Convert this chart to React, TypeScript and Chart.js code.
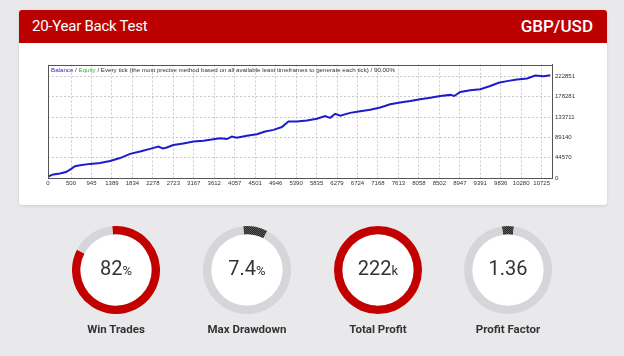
import React, { useEffect, useRef } from "react";
import { Chart, registerables } from "chart.js";

Chart.register(...registerables);

// ---- line chart data (trade number vs balance) ----
const tradeNumbers = [
  0, 115, 261, 391, 478, 587, 696, 913, 1130, 1348, 1565, 1783, 2000, 2217, 2398, 2494, 2580, 2724,
  2941, 3159, 3376, 3594, 3739, 3885, 3994, 4102, 4320, 4537, 4718, 4898, 5081, 5224, 5407, 5624,
  5842, 6022, 6131, 6239, 6348, 6565, 6783, 7000, 7218, 7435, 7652, 7870, 8087, 8305, 8522, 8739,
  8826, 8957, 9174, 9392, 9609, 9790, 9972, 10190, 10407, 10587, 10768, 10913,
];
const balanceValues = [
  3000, 7800, 10000, 13000, 18500, 26000, 28000, 31000, 33000, 37300, 43800, 53000, 58000, 64000,
  69000, 65000, 67000, 72500, 76000, 80000, 82000, 85000, 87000, 85500, 91000, 88500, 92800, 96000,
  102000, 105700, 112000, 124000, 124000, 126500, 130000, 136000, 132000, 141000, 137000, 143000,
  146700, 150000, 155000, 162000, 166000, 169000, 173000, 176000, 180000, 182500, 180000, 189000,
  192600, 194800, 202000, 209000, 212700, 216400, 218500, 225000, 223500, 225600,
];
const xTickLabels = [
  "0", "500", "945", "1389", "1834", "2278", "2723", "3167", "3612", "4057", "4501", "4946", "5390",
  "5835", "6279", "6724", "7168", "7613", "8058", "8502", "8947", "9391", "9836", "10280", "10725",
];
const yTickLabels = ["0", "44570", "89140", "133711", "178281", "222851"];
const xMax = 10950;
const yMax = 249000;

const headerTitle = "20-Year Back Test";
const headerPair = "GBP/USD";
const plotCaptionParts = [
  { text: "Balance", color: "#2b2bc4" },
  { text: " / ", color: "#333" },
  { text: "Equity", color: "#2fbf2f" },
  {
    text: " / Every tick (the most precise method based on all available least timeframes to generate each tick) / 90.00%",
    color: "#333",
  },
];

// ---- gauges ----
const gaugeNames = ["Win Trades", "Max Drawdown", "Total Profit", "Profit Factor"];
const gaugeValues = ["82", "7.4", "222", "1.36"];
const gaugeUnits = ["%", "%", "k", ""];
const gaugeFill = [84, 9, 100, 4.4];
const gaugeStart = [-5, -5, 0, -8];
const gaugeKinds = ["red", "dark", "red", "dark"];

const RED = "#c30000";
const RING_GRAY = "#d5d6da";

function darkPattern(): CanvasPattern | string {
  const c = document.createElement("canvas");
  c.width = 2;
  c.height = 2;
  const g = c.getContext("2d");
  if (!g) return "#444";
  g.fillStyle = "#5c5c5c";
  g.fillRect(0, 0, 2, 2);
  g.fillStyle = "#262626";
  g.fillRect(0, 0, 1, 1);
  g.fillRect(1, 1, 1, 1);
  return g.createPattern(c, "repeat") || "#444";
}

function LineChart() {
  const ref = useRef<HTMLCanvasElement>(null);
  useEffect(() => {
    if (!ref.current) return;
    const framePlugin = {
      id: "frame",
      afterDraw(chart: any) {
        const { ctx, chartArea: a } = chart;
        ctx.save();
        ctx.strokeStyle = "#555";
        ctx.lineWidth = 1;
        ctx.strokeRect(Math.round(a.left) + 0.5, Math.round(a.top) + 0.5, Math.round(a.right - a.left), Math.round(a.bottom - a.top));
        ctx.font = "6.2px 'Liberation Sans'";
        ctx.textBaseline = "middle";
        let x = a.left + 3;
        const y = a.top + 6;
        for (const p of plotCaptionParts) {
          ctx.fillStyle = p.color;
          ctx.fillText(p.text, x, y);
          x += ctx.measureText(p.text).width;
        }
        ctx.restore();
      },
    };
    const chart = new Chart(ref.current, {
      type: "line",
      data: {
        datasets: [
          {
            data: tradeNumbers.map((t, i) => ({ x: t, y: balanceValues[i] })),
            borderColor: "#1c1ccc",
            borderWidth: 2,
            pointRadius: 0,
            tension: 0,
            fill: false,
          },
        ],
      },
      options: {
        animation: false,
        responsive: false,
        devicePixelRatio: 1,
        events: [],
        layout: { padding: { left: 8, right: 8, top: 5, bottom: 4 } },
        plugins: { legend: { display: false }, tooltip: { enabled: false } },
        scales: {
          x: {
            type: "linear",
            min: 0,
            max: xMax,
            afterBuildTicks: (s: any) => {
              s.ticks = xTickLabels.map((l) => ({ value: Number(l) }));
            },
            afterFit: (s: any) => {
              s.height = 12;
            },
            ticks: {
              autoSkip: false,
              maxRotation: 0,
              padding: 2,
              color: "#333",
              font: { family: "'Liberation Sans'", size: 6 },
              callback: (_v: any, i: number) => xTickLabels[i],
            },
            grid: { color: "#c9c9c9", drawTicks: false },
            border: { color: "#555", dash: [2, 2] },
          },
          y: {
            position: "right",
            min: 0,
            max: yMax,
            afterBuildTicks: (s: any) => {
              s.ticks = yTickLabels.map((l) => ({ value: Number(l) }));
            },
            afterFit: (s: any) => {
              s.width = 40;
            },
            ticks: {
              padding: 3,
              color: "#333",
              font: { family: "'Liberation Sans'", size: 6 },
              callback: (_v: any, i: number) => yTickLabels[i],
            },
            grid: { color: "#c9c9c9", drawTicks: false },
            border: { color: "#555", dash: [2, 2] },
          },
        },
      },
      plugins: [framePlugin],
    } as any);
    return () => chart.destroy();
  }, []);
  return (
    <canvas
      ref={ref}
      width={560}
      height={136}
      style={{ position: "absolute", left: 40, top: 58, width: 560, height: 136 }}
    />
  );
}

function Gauge({ index, cx, cy }: { index: number; cx: number; cy: number }) {
  const ref = useRef<HTMLCanvasElement>(null);
  useEffect(() => {
    if (!ref.current) return;
    const fillColor = gaugeKinds[index] === "red" ? RED : darkPattern();
    const chart = new Chart(ref.current, {
      type: "doughnut",
      data: {
        datasets: [
          {
            data: [gaugeFill[index], 100 - gaugeFill[index]],
            backgroundColor: [fillColor, RING_GRAY],
            borderWidth: 0,
          },
        ],
      },
      options: {
        animation: false,
        responsive: false,
        devicePixelRatio: 1,
        events: [],
        cutout: "81%",
        rotation: gaugeStart[index],
        layout: { padding: 0 },
        plugins: { legend: { display: false }, tooltip: { enabled: false } },
      },
    } as any);
    return () => chart.destroy();
  }, [index]);
  const size = 88;
  return (
    <>
      <div
        style={{
          position: "absolute",
          left: cx - 36,
          top: cy - 36,
          width: 72,
          height: 72,
          borderRadius: "50%",
          background: "#fff",
        }}
      />
      <canvas
        ref={ref}
        width={size}
        height={size}
        style={{ position: "absolute", left: cx - size / 2, top: cy - size / 2, width: size, height: size }}
      />
      <div
        style={{
          position: "absolute",
          left: cx - 50,
          top: cy - 16,
          width: 100,
          height: 28,
          textAlign: "center",
          fontFamily: "Roboto, sans-serif",
          color: "#333",
          lineHeight: "28px",
          whiteSpace: "nowrap",
        }}
      >
        <span style={{ fontSize: 20 }}>{gaugeValues[index]}</span>
        <span style={{ fontSize: 13 }}>{gaugeUnits[index]}</span>
      </div>
      <div
        style={{
          position: "absolute",
          left: cx - 60,
          top: cy + 51,
          width: 120,
          height: 16,
          textAlign: "center",
          fontFamily: "Roboto, sans-serif",
          fontWeight: 700,
          fontSize: 11.5,
          color: "#333",
          lineHeight: "16px",
          whiteSpace: "nowrap",
        }}
      >
        {gaugeNames[index]}
      </div>
    </>
  );
}

export default function App() {
  const centers = [116, 247, 378, 508];
  return (
    <div
      style={{
        position: "fixed",
        left: 0,
        top: 0,
        width: 624,
        height: 356,
        background: "#e9e9eb",
        overflow: "hidden",
      }}
    >
      <div
        style={{
          position: "absolute",
          left: 19,
          top: 10,
          width: 588,
          height: 195,
          background: "#fff",
          borderRadius: 3,
          boxShadow: "0 1px 3px rgba(0,0,0,0.12)",
        }}
      />
      <div
        style={{
          position: "absolute",
          left: 19,
          top: 10,
          width: 588,
          height: 33,
          background: "#bb0000",
          borderRadius: "3px 3px 0 0",
          color: "#fff",
          fontFamily: "Roboto, sans-serif",
        }}
      >
        <div
          style={{
            position: "absolute",
            left: 13,
            top: 0,
            lineHeight: "33px",
            fontSize: 15,
            letterSpacing: -0.25,
            whiteSpace: "nowrap",
          }}
        >
          {headerTitle}
        </div>
        <div
          style={{
            position: "absolute",
            right: 14,
            top: 0,
            lineHeight: "33px",
            fontSize: 17,
            fontWeight: 500,
            whiteSpace: "nowrap",
          }}
        >
          {headerPair}
        </div>
      </div>
      <LineChart />
      {centers.map((cx, i) => (
        <Gauge key={i} index={i} cx={cx} cy={270} />
      ))}
    </div>
  );
}
